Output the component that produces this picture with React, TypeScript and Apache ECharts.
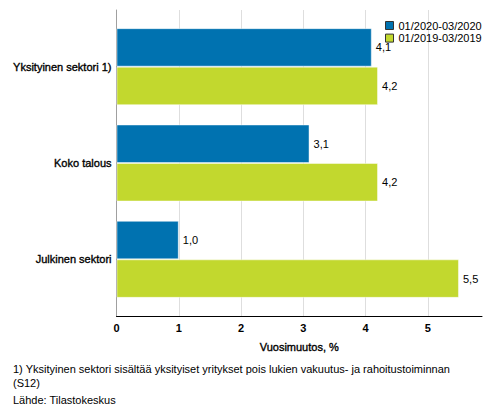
import React, { useEffect, useRef } from "react";
import * as echarts from "echarts";

const categories = ["Yksityinen sektori 1)", "Koko talous", "Julkinen sektori"];
const seriesNames = ["01/2020-03/2020", "01/2019-03/2019"];
const values2020 = [4.1, 3.1, 1.0];
const values2019 = [4.2, 4.2, 5.5];
const xMax = 5.87;
const axisTitle = "Vuosimuutos, %";
const footnote1 = "1) Yksityinen sektori sisältää yksityiset yritykset pois lukien vakuutus- ja rahoitustoiminnan";
const footnote2 = "(S12)";
const source = "Lähde: Tilastokeskus";

const FONT = "'Liberation Sans', Arial, Helvetica, sans-serif";
const BLUE = "#0072b0";
const GREEN = "#c2d82e";

export default function App() {
  const ref = useRef<HTMLDivElement>(null);
  useEffect(() => {
    if (!ref.current) return;
    const chart = echarts.init(ref.current, undefined, { renderer: "svg" });
    const fmt = (p: any) => Number(p.value).toFixed(1).replace(".", ",");
    chart.setOption({
      animation: false,
      textStyle: { fontFamily: FONT },
      legend: {
        orient: "vertical",
        left: 380,
        top: 15,
        itemWidth: 8,
        itemHeight: 8,
        itemGap: 1.6,
        icon: "rect",
        textStyle: { fontSize: 11, color: "#000", fontFamily: FONT },
        itemStyle: { borderColor: "#333", borderWidth: 1 },
        data: seriesNames,
      },
      grid: [
        { left: 116.5, right: 11, top: 18.5, height: 289 },
        { left: 116.5, right: 11, top: 10, height: 306 },
      ],
      xAxis: [
        { gridIndex: 0, type: "value", min: 0, max: xMax, interval: 1, show: false },
        {
          gridIndex: 1,
          type: "value",
          min: 0,
          max: xMax,
          interval: 1,
          axisLine: { show: true, lineStyle: { color: "#000", width: 1 } },
          axisTick: { show: false },
          axisLabel: {
            fontSize: 11,
            fontWeight: "bold",
            color: "#000",
            margin: 6,
            showMaxLabel: false,
            fontFamily: FONT,
          },
          splitLine: { show: true, showMaxLine: false, lineStyle: { color: "#dedede", width: 1 } },
          name: axisTitle,
          nameLocation: "middle",
          nameGap: 25.5,
          nameTextStyle: {
            fontSize: 11,
            color: "#000",
            fontFamily: FONT,
            textBorderColor: "#000",
            textBorderWidth: 0.35,
          },
        },
      ],
      yAxis: [
        {
          gridIndex: 0,
          type: "category",
          inverse: true,
          data: categories,
          axisLine: { show: false },
          axisTick: { show: false },
          axisLabel: {
            fontSize: 11,
            color: "#000",
            margin: 5,
            fontFamily: FONT,
            textBorderColor: "#000",
            textBorderWidth: 0.35,
          },
        },
        {
          gridIndex: 1,
          type: "category",
          data: [""],
          axisLine: { show: true, lineStyle: { color: "#a0a0a0", width: 1 } },
          axisTick: { show: false },
          axisLabel: { show: false },
        },
      ],
      series: [
        {
          name: seriesNames[0],
          type: "bar",
          xAxisIndex: 0,
          yAxisIndex: 0,
          data: values2020,
          barWidth: 38.5,
          barGap: "0%",
          itemStyle: { color: BLUE, borderColor: "rgba(255,255,255,0.45)", borderWidth: 1 },
          label: { show: true, position: "right", distance: 4, fontSize: 11, color: "#000", formatter: fmt, fontFamily: FONT },
        },
        {
          name: seriesNames[1],
          type: "bar",
          xAxisIndex: 0,
          yAxisIndex: 0,
          data: values2019,
          barWidth: 38.5,
          barGap: "0%",
          itemStyle: { color: GREEN, borderColor: "rgba(255,255,255,0.45)", borderWidth: 1 },
          label: { show: true, position: "right", distance: 4, fontSize: 11, color: "#000", formatter: fmt, fontFamily: FONT },
        },
      ],
      graphic: [
        { type: "text", left: 13, top: 363, style: { text: footnote1, fontSize: 11, fill: "#000", fontFamily: FONT } },
        { type: "text", left: 13, top: 377, style: { text: footnote2, fontSize: 11, fill: "#000", fontFamily: FONT } },
        { type: "text", left: 13, top: 394.5, style: { text: source, fontSize: 11, fill: "#000", fontFamily: FONT } },
      ],
    });
    return () => chart.dispose();
  }, []);
  return (
    <div
      ref={ref}
      style={{ position: "fixed", left: 0, top: 0, width: 493, height: 416, background: "#fff" }}
    />
  );
}
